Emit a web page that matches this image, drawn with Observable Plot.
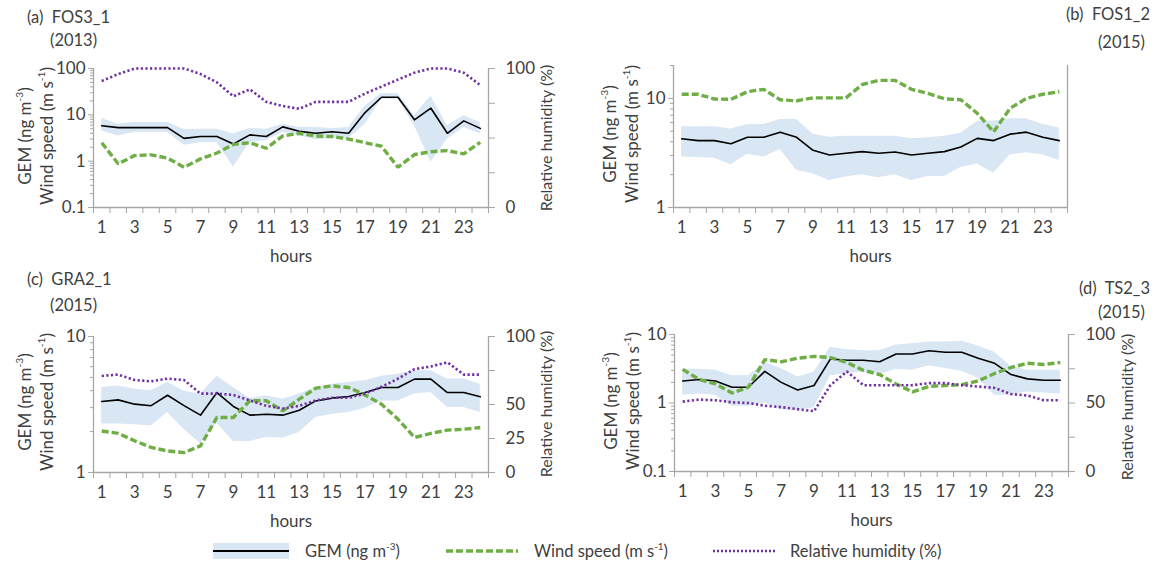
<!DOCTYPE html>
<html><head><meta charset="utf-8">
<script src="https://cdn.jsdelivr.net/npm/d3@7"></script>
<script src="https://cdn.jsdelivr.net/npm/@observablehq/plot@0.6"></script>
<style>
body{margin:0;background:#fff;font-family:Lato,"Open Sans",sans-serif;color:#404040}
#root{position:relative;width:1160px;height:564px;overflow:hidden;background:#fff}
.panel{position:absolute}
.title{position:absolute;font-size:16.5px;line-height:1;white-space:pre}
.rot{position:absolute;font-size:17px;white-space:nowrap;transform:translate(-50%,-50%) rotate(-90deg);line-height:22px;text-align:center}
.rot.rh{font-size:16px}
sup{font-size:0.6em;vertical-align:0.75em;line-height:0}
.leg{position:absolute;top:540px;height:22px;font-size:16.5px;line-height:22px;white-space:nowrap}
</style></head><body><div id="root"></div>
<script>
// ---------- data ----------
const hours = [1,2,3,4,5,6,7,8,9,10,11,12,13,14,15,16,17,18,19,20,21,22,23,24];
const hourLabels = [1,3,5,7,9,11,13,15,17,19,21,23];
const rhTicks = [0,25,50,75,100];

// (a) FOS3_1 (2013)
const gemA   = [5.8,5.3,5.3,5.3,5.3,3.1,3.4,3.4,2.35,3.7,3.4,5.5,4.4,4.0,4.3,4.0,11.2,24,24,7.8,13.9,4.0,7.4,5.1];
const gemHiA = [8.3,6.3,6.8,6.8,6.8,4.8,4.9,4.9,3.85,5.1,4.9,6.3,5.3,5.3,5.1,5.3,15.5,28.6,28.6,9.5,25.5,5.8,9.5,6.8];
const gemLoA = [4.5,3.5,4.2,4.2,4.2,2.2,2.5,2.5,0.75,2.5,2.8,4.2,3.5,2.9,3.1,3.1,6.3,21.6,21.6,5.8,0.95,3.0,5.3,3.85];
const windA  = [2.5,0.88,1.32,1.37,1.16,0.74,1.12,1.5,2.3,2.5,1.9,3.5,4.0,3.5,3.4,3.0,2.5,2.1,0.74,1.39,1.6,1.69,1.44,2.55];
const rhA    = [91,96,100,100,100,100,96,90,80,85,76,73,71,76,76,76,82,87,92,97,100,100,97,88];

// (b) FOS1_2 (2015)
const gemB   = [4.26,4.1,4.1,3.84,4.4,4.4,4.9,4.4,3.34,3.03,3.14,3.25,3.14,3.23,3.03,3.14,3.25,3.58,4.3,4.1,4.7,4.9,4.4,4.1];
const gemHiB = [5.5,5.5,5.5,5.25,5.75,5.75,6.4,6.4,4.7,4.4,4.5,4.5,4.5,4.5,4.26,4.35,4.5,4.8,6.15,6.2,6.5,6.5,5.75,5.35];
const gemLoB = [2.9,2.87,2.83,2.46,3.07,2.9,3.4,2.2,2.03,1.77,1.9,2.0,1.87,2.0,1.77,1.92,1.92,2.33,2.5,2.06,3.03,3.18,3.03,2.7];
const windB  = [10.9,10.9,9.86,9.8,11.5,12.1,9.7,9.5,10.1,10.1,10.1,13.4,14.6,14.6,12.1,11.1,9.9,9.7,7.3,4.93,8.1,10,10.9,11.5];

// (c) GRA2_1 (2015)
const gemC   = [3.33,3.42,3.18,3.1,3.7,3.1,2.64,3.87,3.06,2.64,2.68,2.64,2.87,3.36,3.52,3.62,3.87,4.22,4.22,4.86,4.86,3.87,3.87,3.6];
const gemHiC = [4.22,4.33,4.1,3.99,4.6,3.95,3.77,5.1,4.22,3.5,3.66,3.46,3.77,4.22,4.46,4.6,4.72,5.1,5.28,5.6,5.6,4.86,4.86,4.46];
const gemLoC = [2.27,2.27,2.24,2.2,2.76,2.08,1.63,2.3,1.69,1.69,1.81,1.79,1.97,2.54,2.68,2.76,2.97,3.36,3.36,3.77,3.87,3.0,3.0,2.76];
const windC  = [2.02,1.94,1.71,1.53,1.44,1.4,1.57,2.54,2.54,3.37,3.37,2.84,3.46,4.17,4.33,4.22,3.72,3.18,2.47,1.81,1.94,2.05,2.08,2.14];
const rhC    = [71,72,68,67,69,68,58,58,57,53,49,47,49,53,55,55,58,63,69,76,78,81,72,72];

// (d) TS2_3 (2015)
const gemD   = [2.1,2.2,2.1,1.7,1.7,2.9,2.0,1.55,1.8,4.4,4.2,4.2,4.0,5.2,5.2,5.8,5.5,5.5,4.5,3.8,2.6,2.25,2.15,2.15];
const gemHiD = [3.1,3.1,3.0,2.5,2.5,3.9,3.2,2.4,2.8,6.5,6.0,5.8,5.8,7.0,7.3,7.8,7.8,8.0,6.8,5.5,3.4,3.0,3.0,3.0];
const gemLoD = [1.3,1.35,1.3,0.9,0.9,1.0,0.8,0.78,0.85,2.5,2.7,2.8,2.6,3.1,3.0,3.5,3.2,2.9,2.3,1.3,1.3,1.45,1.4,1.35];
const windD  = [3.1,2.2,1.9,1.4,1.7,4.3,4.0,4.5,4.8,4.6,3.9,3.0,2.6,1.9,1.45,1.75,1.8,1.85,2.1,2.7,3.3,3.8,3.65,3.9];
const rhD    = [51,52.5,52,50.5,50,48,47,45.5,44,63,73,63,63,63,63,64.5,64.5,63,62,61,56.5,55.5,52,52];

// ---------- style ----------
const BAND = "#d9e6f4", GREEN = "#6fae45", PURPLE = "#7030a0", AXIS = "#a6a6a6", TEXT = "#404040";
const FONT = "Lato, 'Open Sans', sans-serif";

const root = document.getElementById("root");

function minorTicks(lo, hi) {
  const out = [];
  for (let e = Math.floor(Math.log10(lo)); e <= Math.ceil(Math.log10(hi)); e++) {
    for (let k = 2; k <= 9; k++) { const v = k * Math.pow(10, e); if (v > lo * 1.0001 && v <= hi * 1.0001) out.push(+v.toPrecision(3)); }
  }
  return out;
}

function panel(o) {
  const data = hours.map((h, i) => ({h, gem: o.gem[i], lo: o.lo[i], hi: o.hi[i], wind: o.wind[i], rh: o.rh ? o.rh[i] : null}));
  const L0 = Math.log10(o.yDomain[0]), L1 = Math.log10(o.yDomain[1]);
  const rhToY = v => Math.pow(10, L0 + v / 100 * (L1 - L0));
  const yToRh = y => (Math.log10(y) - L0) / (L1 - L0) * 100;
  const majors = [];
  for (let e = Math.ceil(L0 - 1e-9); e <= Math.floor(L1 + 1e-9); e++) majors.push(+Math.pow(10, e).toPrecision(3));
  const bounds = d3.range(0.5, 25, 1);
  const marks = [
    Plot.areaY(data, {x: "h", y1: "lo", y2: "hi", fill: BAND}),
    Plot.line(data, {x: "h", y: "gem", stroke: "#000", strokeWidth: 1.6}),
    Plot.line(data, {x: "h", y: "wind", stroke: GREEN, strokeWidth: 3.4, strokeDasharray: "7,3", strokeLinecap: "butt", strokeLinejoin: "miter"}),
  ];
  if (o.rh) marks.push(Plot.line(data, {x: "h", y: d => rhToY(d.rh), stroke: PURPLE, strokeWidth: 2.6, strokeDasharray: "2.2,2.4", strokeLinecap: "butt", strokeLinejoin: "miter"}));
  marks.push(
    Plot.ruleY([o.yDomain[0]], {stroke: AXIS, strokeWidth: 1.3}),
    Plot.ruleX([0.5, 24.5], {stroke: AXIS, strokeWidth: 1.3}),
    Plot.axisY(majors, {anchor: "left", tickSize: 5, tickPadding: 3, stroke: AXIS, fill: TEXT, tickFormat: d => String(d), label: null}),
    Plot.axisY(minorTicks(o.yDomain[0], o.yDomain[1]), {anchor: "left", tickSize: 3, stroke: AXIS, tickFormat: () => "", label: null}),
    Plot.axisX(bounds, {anchor: "bottom", tickSize: 6, stroke: AXIS, tickFormat: () => "", label: null}),
    Plot.axisX(hourLabels, {anchor: "bottom", tickSize: 0, tickPadding: 13, fill: TEXT, label: "hours", labelAnchor: "center", labelOffset: 54, labelArrow: "none"})
  );
  if (o.rh) marks.push(Plot.axisY(rhTicks.map(rhToY), {anchor: "right", tickSize: 6, tickPadding: 11, stroke: AXIS, fill: TEXT, tickFormat: d => String(Math.round(yToRh(d))), label: null}));
  const chart = Plot.plot({
    width: o.width, height: o.height,
    marginLeft: o.mL, marginRight: o.mR, marginTop: o.mT, marginBottom: o.mB,
    x: {domain: [0.5, 24.5]},
    y: {type: "log", domain: o.yDomain},
    style: {fontFamily: FONT, fontSize: "17px", color: TEXT, background: "transparent", overflow: "visible"},
    marks
  });
  const div = document.createElement("div");
  div.className = "panel";
  div.style.left = o.left + "px"; div.style.top = o.top + "px";
  div.appendChild(chart);
  root.appendChild(div);
}

function html(cls, css, content) {
  const d = document.createElement("div");
  d.className = cls; Object.assign(d.style, css); d.innerHTML = content; root.appendChild(d);
}

const yTitle = 'GEM (ng m<sup>-3</sup>)<br>Wind speed (m s<sup>-1</sup>)';

panel({left: 0, top: 0, width: 580, height: 270, mL: 93, mR: 92, mT: 68, mB: 63, yDomain: [0.1, 100], gem: gemA, lo: gemLoA, hi: gemHiA, wind: windA, rh: rhA});
panel({left: 580, top: 0, width: 580, height: 270, mL: 93, mR: 93, mT: 65, mB: 63, yDomain: [1, 20], gem: gemB, lo: gemLoB, hi: gemHiB, wind: windB, rh: null});
panel({left: 0, top: 270, width: 580, height: 265, mL: 93, mR: 92, mT: 66, mB: 63, yDomain: [1, 10], gem: gemC, lo: gemLoC, hi: gemHiC, wind: windC, rh: rhC});
panel({left: 580, top: 270, width: 580, height: 265, mL: 94, mR: 92, mT: 64, mB: 64, yDomain: [0.1, 10], gem: gemD, lo: gemLoD, hi: gemHiD, wind: windD, rh: rhD});

// titles
html("title", {left: "27px", top: "9px"}, "(a)  FOS3_1");
html("title", {left: "50px", top: "32px"}, "(2013)");
html("title", {right: "10px", top: "6px"}, "(b)  FOS1_2");
html("title", {right: "15px", top: "34px"}, "(2015)");
html("title", {left: "27px", top: "271px"}, "(c)  GRA2_1");
html("title", {left: "50px", top: "297px"}, "(2015)");
html("title", {right: "10px", top: "280px"}, "(d)  TS2_3");
html("title", {right: "15px", top: "304px"}, "(2015)");

// axis titles
html("rot", {left: "36px", top: "136px"}, yTitle);
html("rot", {left: "621px", top: "134px"}, yTitle);
html("rot", {left: "36px", top: "402px"}, yTitle);
html("rot", {left: "622px", top: "401px"}, yTitle);
html("rot rh", {left: "546px", top: "138px"}, "Relative humidity (%)");
html("rot rh", {left: "546px", top: "404px"}, "Relative humidity (%)");
html("rot rh", {left: "1127px", top: "407px"}, "Relative humidity (%)");

// legend
const legSw = (w, inner) => `<svg width="${w}" height="22" style="vertical-align:top">${inner}</svg>`;
html("leg", {left: "213px"}, legSw(76, `<rect x="0" y="3" width="76" height="16" fill="${BAND}"/><line x1="0" x2="76" y1="11" y2="11" stroke="#000" stroke-width="2"/>`));
html("leg", {left: "305px"}, "GEM (ng m<sup>-3</sup>)");
html("leg", {left: "446px"}, legSw(72, `<line x1="0" x2="72" y1="11" y2="11" stroke="${GREEN}" stroke-width="3.4" stroke-dasharray="7,3"/>`));
html("leg", {left: "534px"}, "Wind speed (m s<sup>-1</sup>)");
html("leg", {left: "713px"}, legSw(62, `<line x1="0" x2="62" y1="11" y2="11" stroke="${PURPLE}" stroke-width="2.4" stroke-dasharray="2,2"/>`));
html("leg", {left: "790px"}, "Relative humidity (%)");
</script>
</body></html>
